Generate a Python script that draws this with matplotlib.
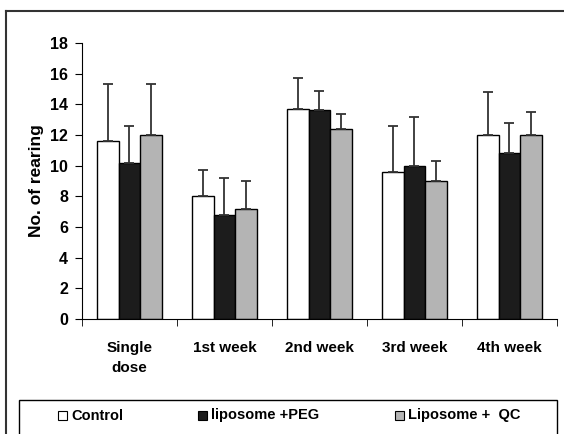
import numpy as np
import matplotlib.pyplot as plt
from matplotlib.patches import Rectangle
from matplotlib.lines import Line2D

plt.rcParams['font.family'] = ['Liberation Sans', 'DejaVu Sans']
plt.rcParams['font.weight'] = 'bold'

categories = ['Single\ndose', '1st week', '2nd week', '3rd week', '4th week']
control = [11.6, 8.0, 13.7, 9.6, 12.0]
control_err = [3.7, 1.7, 2.0, 3.0, 2.8]
peg = [10.2, 6.8, 13.6, 10.0, 10.8]
peg_err = [2.4, 2.4, 1.3, 3.2, 2.0]
qc = [12.0, 7.2, 12.4, 9.0, 12.0]
qc_err = [3.3, 1.8, 1.0, 1.3, 1.5]
series_names = ['Control', 'liposome +PEG', 'Liposome +  QC']

fig = plt.figure(figsize=(5.64, 4.34), dpi=100)
ax = fig.add_axes([0.1454, 0.265, 0.842, 0.636])

x = np.arange(len(categories))
w = 0.227
colors = ['white', '#1c1c1c', '#b4b4b4']
for i, (vals, errs) in enumerate([(control, control_err), (peg, peg_err), (qc, qc_err)]):
    ax.bar(x + (i - 1) * w, vals, w, color=colors[i], edgecolor='black', linewidth=1.0,
           yerr=[np.zeros(len(errs)), errs], error_kw=dict(ecolor='#333333', elinewidth=1.3,
                                                             capsize=3.5, capthick=1.3))

ax.set_xlim(-0.5, len(categories) - 0.5)
ax.set_ylim(0, 18)
ax.set_yticks(np.arange(0, 19, 2))
ax.set_xticks(x)
ax.set_xticklabels(categories, fontsize=11, fontweight='bold', linespacing=1.55, va='top')
ax.set_xticks(np.arange(-0.5, len(categories), 1), minor=True)
ax.tick_params(axis='x', which='major', length=0, pad=16)
ax.tick_params(axis='x', which='minor', length=5, direction='out')
ax.tick_params(axis='y', length=5, direction='out', labelsize=11.5, pad=5)
for lab in ax.get_yticklabels():
    lab.set_fontweight('bold')
ax.spines['top'].set_visible(False)
ax.spines['right'].set_visible(False)
ax.set_ylabel('No. of rearing', fontsize=12.5, fontweight='bold', va='center')
ax.yaxis.set_label_coords(-0.095, 0.5)

# outer frame (top and left edges visible)
fig.add_artist(Line2D([6/564, 1.0], [1 - 10.5/434, 1 - 10.5/434], color='#333333', lw=1.5))
fig.add_artist(Line2D([6/564, 6/564], [0, 1 - 10.5/434], color='#333333', lw=1.5))

# legend box
fig.add_artist(Rectangle((19/564, -0.02), (557 - 19)/564, 0.02 + 1 - 400/434,
                         fill=False, edgecolor='black', lw=1.0))
legend_x = [58, 198, 395]
for i, name in enumerate(series_names):
    fig.add_artist(Rectangle((legend_x[i]/564, 1 - 420/434), 9/564, 9/434,
                             facecolor=colors[i], edgecolor='black', lw=0.8))
    fig.text((legend_x[i] + 13)/564, 1 - 415.5/434, name, fontsize=10.5,
             fontweight='bold', va='center', ha='left')

fig.savefig('out.png', dpi=100)
